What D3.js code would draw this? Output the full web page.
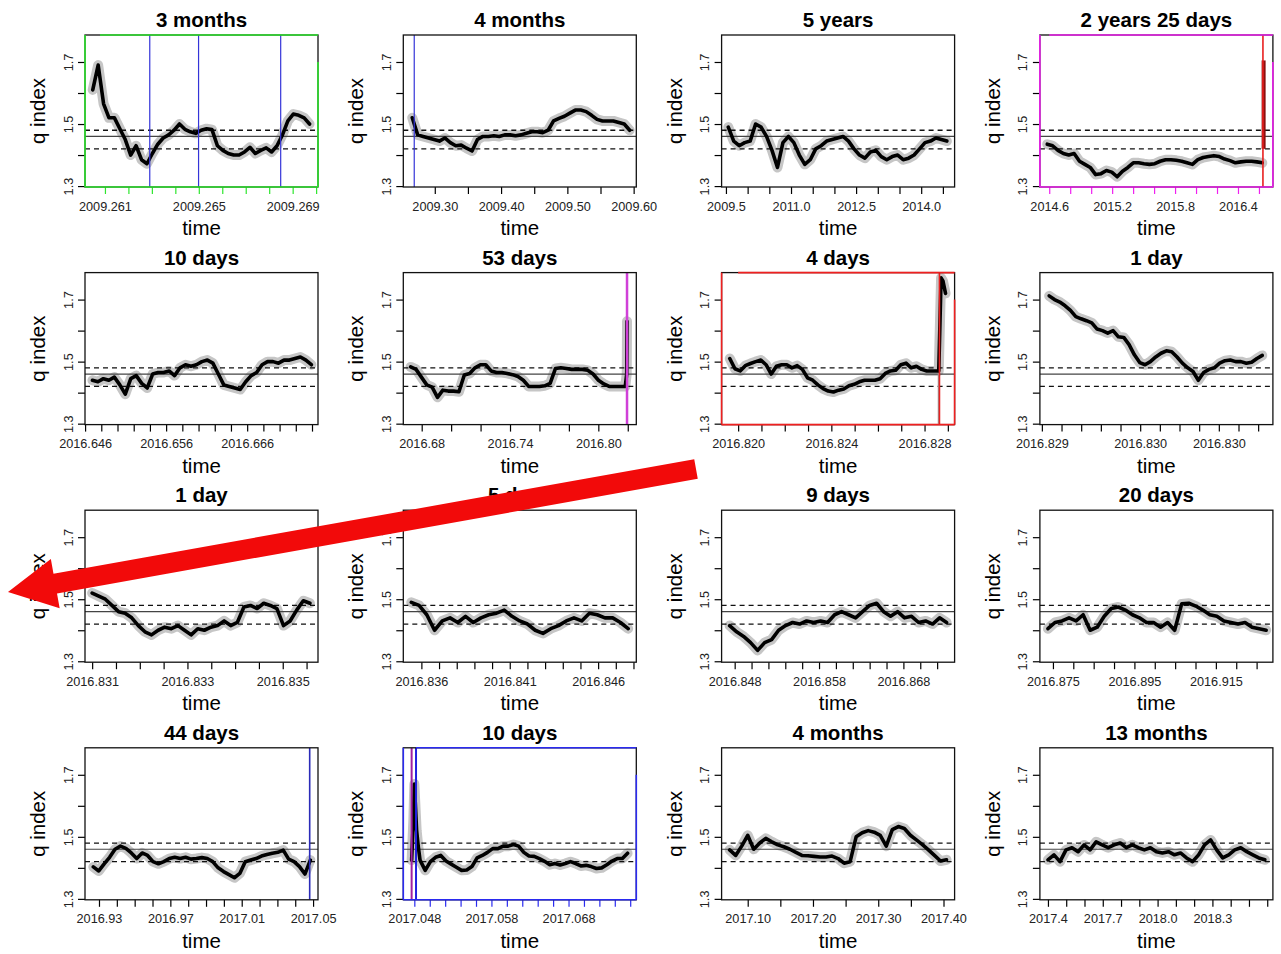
<!DOCTYPE html>
<html>
<head>
<meta charset="utf-8">
<script src="https://cdn.jsdelivr.net/npm/d3@7"></script>
<style>
  body { margin: 0; background: #fff; }
  text { font-family: "Liberation Sans", Arial, Helvetica, sans-serif; }
</style>
</head>
<body>
<svg id="chart" width="1281" height="954"></svg>
<script>
// reference levels and y axis
const refMid = 1.46, refUpper = 1.48, refLower = 1.42;
const yTicks = [1.3, 1.4, 1.5, 1.6, 1.7];
const yTickLabels = ["1.3", "", "1.5", "", "1.7"];
const yDomain = [1.297, 1.787];

const titles = ["3 months", "4 months", "5 years", "2 years 25 days",
                "10 days", "53 days", "4 days", "1 day",
                "1 day", "5 days", "9 days", "20 days",
                "44 days", "10 days", "4 months", "13 months"];

// q index series: values sampled evenly between the two times of tspan
const tspan01 = [2009.26048, 2009.26972];
const q01 = [1.61,1.69,1.565,1.52,1.52,1.485,1.45,1.40,1.43,1.385,1.372,1.405,1.435,1.455,1.465,1.48,1.50,1.483,1.475,1.47,1.48,1.485,1.482,1.43,1.415,1.405,1.40,1.40,1.41,1.425,1.405,1.415,1.423,1.41,1.43,1.465,1.51,1.532,1.528,1.52,1.50];
const tspan02 = [2009.266, 2009.594];
const q02 = [1.52,1.465,1.46,1.455,1.45,1.445,1.455,1.44,1.43,1.432,1.422,1.413,1.45,1.46,1.46,1.462,1.46,1.465,1.465,1.462,1.465,1.47,1.475,1.475,1.472,1.48,1.51,1.518,1.525,1.535,1.545,1.545,1.54,1.528,1.515,1.51,1.51,1.51,1.505,1.50,1.48];
const tspan03 = [2009.554, 2014.592];
const q03 = [1.49,1.445,1.43,1.44,1.445,1.50,1.49,1.46,1.415,1.36,1.44,1.46,1.44,1.40,1.37,1.385,1.42,1.43,1.445,1.45,1.455,1.46,1.445,1.42,1.40,1.39,1.41,1.415,1.395,1.385,1.395,1.40,1.385,1.39,1.40,1.42,1.44,1.445,1.455,1.45,1.445];
const tspan04 = [2014.581, 2016.632];
const q04 = [1.435,1.43,1.415,1.405,1.40,1.405,1.38,1.37,1.36,1.337,1.34,1.35,1.345,1.33,1.348,1.36,1.375,1.375,1.372,1.37,1.372,1.38,1.385,1.385,1.383,1.38,1.375,1.37,1.385,1.392,1.395,1.398,1.395,1.387,1.382,1.375,1.378,1.38,1.38,1.378,1.375];
const tspan05 = [2016.64691, 2016.67392];
const q05 = [1.44,1.435,1.445,1.44,1.45,1.425,1.395,1.445,1.455,1.43,1.415,1.46,1.465,1.465,1.47,1.455,1.48,1.49,1.485,1.49,1.50,1.505,1.495,1.46,1.425,1.42,1.415,1.41,1.435,1.455,1.465,1.49,1.50,1.50,1.495,1.505,1.505,1.51,1.515,1.505,1.49];
const tspan06 = [2016.6725, 2016.8183];
const q06 = [1.483,1.475,1.45,1.425,1.418,1.385,1.408,1.405,1.405,1.403,1.457,1.462,1.48,1.49,1.49,1.47,1.465,1.465,1.462,1.458,1.452,1.44,1.42,1.42,1.42,1.422,1.43,1.478,1.48,1.478,1.475,1.475,1.475,1.472,1.46,1.44,1.428,1.42,1.42,1.42,1.42];
const post06 = [[2016.8193, 1.46], [2016.8195, 1.63]];
const tspan07 = [2016.81964, 2016.82854];
const q07 = [1.51,1.477,1.47,1.487,1.494,1.50,1.505,1.49,1.46,1.485,1.49,1.49,1.48,1.487,1.475,1.448,1.44,1.425,1.413,1.405,1.402,1.408,1.412,1.422,1.427,1.435,1.44,1.44,1.44,1.445,1.462,1.47,1.472,1.49,1.495,1.48,1.485,1.475,1.47,1.47,1.47];
const post07 = [[2016.82861, 1.47], [2016.82871, 1.77], [2016.82879, 1.76], [2016.8289, 1.72]];
const tspan08 = [2016.829437, 2016.830521];
const q08 = [1.712,1.70,1.692,1.68,1.665,1.645,1.638,1.632,1.625,1.605,1.60,1.592,1.60,1.58,1.578,1.555,1.522,1.497,1.49,1.50,1.515,1.527,1.535,1.532,1.515,1.495,1.48,1.468,1.44,1.465,1.475,1.48,1.495,1.503,1.505,1.50,1.50,1.495,1.498,1.51,1.52];
const tspan09 = [2016.831, 2016.83557];
const q09 = [1.52,1.51,1.50,1.48,1.46,1.455,1.44,1.415,1.395,1.385,1.40,1.41,1.405,1.415,1.40,1.385,1.405,1.40,1.41,1.415,1.43,1.415,1.425,1.475,1.48,1.47,1.487,1.48,1.47,1.415,1.43,1.465,1.495,1.487];
const tspan10 = [2016.83543, 2016.8477];
const q10 = [1.49,1.48,1.45,1.40,1.43,1.44,1.425,1.445,1.425,1.44,1.45,1.455,1.465,1.445,1.43,1.42,1.40,1.39,1.405,1.415,1.43,1.44,1.43,1.455,1.45,1.44,1.44,1.425,1.405];
const tspan11 = [2016.8474, 2016.87312];
const q11 = [1.415,1.395,1.38,1.36,1.335,1.36,1.37,1.40,1.415,1.425,1.42,1.43,1.425,1.43,1.425,1.45,1.46,1.45,1.44,1.46,1.48,1.487,1.46,1.445,1.46,1.44,1.445,1.425,1.43,1.42,1.44,1.425];
const tspan12 = [2016.87377, 2016.92735];
const q12 = [1.405,1.425,1.43,1.44,1.43,1.45,1.40,1.41,1.445,1.47,1.475,1.465,1.45,1.44,1.425,1.425,1.41,1.425,1.40,1.485,1.487,1.478,1.465,1.45,1.445,1.43,1.425,1.42,1.425,1.41,1.405,1.40];
const tspan13 = [2016.92683, 2017.04847];
const q13 = [1.403,1.39,1.413,1.434,1.46,1.47,1.463,1.448,1.43,1.448,1.44,1.42,1.413,1.42,1.43,1.434,1.43,1.434,1.428,1.43,1.433,1.43,1.42,1.40,1.388,1.378,1.368,1.382,1.42,1.425,1.43,1.438,1.443,1.447,1.45,1.457,1.428,1.42,1.404,1.38,1.425];
const pre14 = [[2017.04765, 1.425], [2017.04787, 1.55], [2017.048, 1.67], [2017.04813, 1.607], [2017.0483, 1.52], [2017.04852, 1.467]];
const tspan14 = [2017.04874, 2017.07566];
const q14 = [1.425,1.392,1.42,1.434,1.44,1.422,1.412,1.402,1.392,1.393,1.404,1.432,1.44,1.45,1.462,1.462,1.47,1.47,1.475,1.47,1.45,1.438,1.437,1.43,1.421,1.41,1.414,1.409,1.414,1.42,1.414,1.406,1.408,1.404,1.398,1.40,1.41,1.422,1.43,1.43,1.447];
const tspan15 = [2017.0723, 2017.4046];
const q15 = [1.458,1.44,1.47,1.505,1.46,1.48,1.495,1.484,1.474,1.468,1.46,1.45,1.44,1.439,1.437,1.435,1.435,1.438,1.43,1.415,1.42,1.5,1.513,1.52,1.515,1.505,1.47,1.523,1.533,1.527,1.505,1.49,1.475,1.458,1.44,1.422,1.426];
const tspan16 = [2017.4, 2018.587];
const q16 = [1.426,1.442,1.42,1.458,1.465,1.452,1.474,1.458,1.484,1.474,1.465,1.474,1.48,1.465,1.474,1.465,1.458,1.465,1.452,1.448,1.452,1.442,1.448,1.432,1.42,1.442,1.474,1.49,1.458,1.432,1.442,1.458,1.465,1.452,1.442,1.432,1.426];

// x ticks and their labels
const xt01 = [2009.261,2009.262,2009.263,2009.264,2009.265,2009.266,2009.267,2009.268,2009.269,2009.270];
const xl01 = ["2009.261","","","","2009.265","","","","2009.269",""];
const xt02 = [2009.30,2009.35,2009.40,2009.45,2009.50,2009.55,2009.60];
const xl02 = ["2009.30","","2009.40","","2009.50","","2009.60"];
const xt03 = [2009.5,2010.0,2010.5,2011.0,2011.5,2012.0,2012.5,2013.0,2013.5,2014.0,2014.5];
const xl03 = ["2009.5","","","2011.0","","","2012.5","","","2014.0",""];
const xt04 = [2014.6,2014.8,2015.0,2015.2,2015.4,2015.6,2015.8,2016.0,2016.2,2016.4,2016.6];
const xl04 = ["2014.6","","","2015.2","","","2015.8","","","2016.4",""];
const xt05 = [2016.646,2016.648,2016.650,2016.652,2016.654,2016.656,2016.658,2016.660,2016.662,2016.664,2016.666,2016.668,2016.670,2016.672,2016.674];
const xl05 = ["2016.646","","","","","2016.656","","","","","2016.666","","","",""];
const xt06 = [2016.68,2016.70,2016.72,2016.74,2016.76,2016.78,2016.80,2016.82];
const xl06 = ["2016.68","","","2016.74","","","2016.80",""];
const xt07 = [2016.820,2016.821,2016.822,2016.823,2016.824,2016.825,2016.826,2016.827,2016.828,2016.829];
const xl07 = ["2016.820","","","","2016.824","","","","2016.828",""];
const xt08 = [2016.8294,2016.8295,2016.8296,2016.8297,2016.8298,2016.8299,2016.8300,2016.8301,2016.8302,2016.8303,2016.8304,2016.8305];
const xl08 = ["2016.829","","","","","2016.830","","","","2016.830","",""];
const xt09 = [2016.8310,2016.8315,2016.8320,2016.8325,2016.8330,2016.8335,2016.8340,2016.8345,2016.8350,2016.8355];
const xl09 = ["2016.831","","","","2016.833","","","","2016.835",""];
const xt10 = [2016.836,2016.837,2016.838,2016.839,2016.840,2016.841,2016.842,2016.843,2016.844,2016.845,2016.846,2016.847,2016.848];
const xl10 = ["2016.836","","","","","2016.841","","","","","2016.846","",""];
const xt11 = [2016.848,2016.850,2016.852,2016.854,2016.856,2016.858,2016.860,2016.862,2016.864,2016.866,2016.868,2016.870,2016.872];
const xl11 = ["2016.848","","","","","2016.858","","","","","2016.868","",""];
const xt12 = [2016.875,2016.880,2016.885,2016.890,2016.895,2016.900,2016.905,2016.910,2016.915,2016.920,2016.925];
const xl12 = ["2016.875","","","","2016.895","","","","2016.915","",""];
const xt13 = [2016.93,2016.94,2016.95,2016.96,2016.97,2016.98,2016.99,2017.00,2017.01,2017.02,2017.03,2017.04,2017.05];
const xl13 = ["2016.93","","","","2016.97","","","","2017.01","","","","2017.05"];
const xt14 = [2017.048,2017.050,2017.052,2017.054,2017.056,2017.058,2017.060,2017.062,2017.064,2017.066,2017.068,2017.070,2017.072,2017.074,2017.076];
const xl14 = ["2017.048","","","","","2017.058","","","","","2017.068","","","",""];
const xt15 = [2017.10,2017.15,2017.20,2017.25,2017.30,2017.35,2017.40];
const xl15 = ["2017.10","","2017.20","","2017.30","","2017.40"];
const xt16 = [2017.4,2017.5,2017.6,2017.7,2017.8,2017.9,2018.0,2018.1,2018.2,2018.3,2018.4,2018.5,2018.6];
const xl16 = ["2017.4","","","2017.7","","","2018.0","","","2018.3","","",""];

const blue = "#3434d8", red = "#e82020", magenta = "#d040d8";

const panels = [
  { domain: [2009.26015, 2009.27008], ticks: xt01, labels: xl01, span: tspan01, q: q01,
    frame: { color: "#2ee62e", from: 2009.26079, ticks: true },
    vlines: [{ t: 2009.26291, color: blue, w: 1.2 }, { t: 2009.26499, color: blue, w: 1.2 }, { t: 2009.26849, color: blue, w: 1.2 }] },
  { domain: [2009.2525, 2009.604], ticks: xt02, labels: xl02, span: tspan02, q: q02,
    vlines: [{ t: 2009.269, color: blue, w: 1.2 }] },
  { domain: [2009.4, 2014.77], ticks: xt03, labels: xl03, span: tspan03, q: q03 },
  { domain: [2014.511, 2016.733], ticks: xt04, labels: xl04, span: tspan04, q: q04,
    frame: { color: "#f020f0", from: 2014.6, ticks: true },
    vlines: [{ t: 2016.638, color: red, w: 1.6 }],
    segs: [{ pts: [[2016.6445, 1.42], [2016.6445, 1.705]], color: "#8b1010", w: 4 }] },
  { domain: [2016.64599, 2016.67474], ticks: xt05, labels: xl05, span: tspan05, q: q05 },
  { domain: [2016.6675, 2016.8258], ticks: xt06, labels: xl06, span: tspan06, q: q06, post: post06,
    vlines: [{ t: 2016.8195, color: magenta, w: 2.5 }] },
  { domain: [2016.81929, 2016.82929], ticks: xt07, labels: xl07, span: tspan07, q: q07, post: post07,
    frame: { color: "#f02020", from: 2016.820, ticks: false },
    vlines: [{ t: 2016.82864, color: red, w: 1.6 }],
    segs: [{ pts: [[2016.82861, 1.47], [2016.82861, 1.30]], color: "#9a9a9a", w: 2 }] },
  { domain: [2016.82939, 2016.830575], ticks: xt08, labels: xl08, span: tspan08, q: q08 },
  { domain: [2016.83085, 2016.83574], ticks: xt09, labels: xl09, span: tspan09, q: q09 },
  { domain: [2016.834977, 2016.84816], ticks: xt10, labels: xl10, span: tspan10, q: q10 },
  { domain: [2016.84645, 2016.87407], ticks: xt11, labels: xl11, span: tspan11, q: q11 },
  { domain: [2016.8718, 2016.929], ticks: xt12, labels: xl12, span: tspan12, q: q12 },
  { domain: [2016.92216, 2017.05276], ticks: xt13, labels: xl13, span: tspan13, q: q13,
    vlines: [{ t: 2017.0481, color: "#2b2bb8", w: 1.6 }] },
  { domain: [2017.04657, 2017.07679], ticks: xt14, labels: xl14, span: tspan14, q: q14, pre: pre14,
    frame: { color: "#2a2af0", from: 2017.04822, ticks: true },
    vlines: [{ t: 2017.04765, color: "#a020a0", w: 2 }, { t: 2017.04822, color: "#2020e0", w: 2 }] },
  { domain: [2017.06, 2017.417], ticks: xt15, labels: xl15, span: tspan15, q: q15 },
  { domain: [2017.356, 2018.631], ticks: xt16, labels: xl16, span: tspan16, q: q16 }
];

const W = 233, H = 152;
const svg = d3.select("#chart");

panels.forEach((p, i) => {
  const col = i % 4, row = Math.floor(i / 4);
  const left = 85 + col * 318.3, top = 35 + row * 237.6;
  const g = svg.append("g").attr("transform", `translate(${left},${top})`);

  const x = d3.scaleLinear().domain(p.domain).range([0, W]);
  const y = d3.scaleLinear().domain(yDomain).range([H, 0]);

  const n = p.q.length;
  let pts = p.q.map((v, k) => [p.span[0] + (p.span[1] - p.span[0]) * k / (n - 1), v]);
  if (p.pre) pts = p.pre.concat(pts);
  if (p.post) pts = pts.concat(p.post);

  const clipId = "clip" + i;
  g.append("clipPath").attr("id", clipId)
    .append("rect").attr("width", W).attr("height", H);
  const plot = g.append("g").attr("clip-path", `url(#${clipId})`);

  const line = d3.line().x(d => x(d[0])).y(d => y(d[1]));

  // uncertainty band
  plot.append("path").datum(pts).attr("d", line)
    .attr("fill", "none").attr("stroke", "#c6c6c6").attr("stroke-width", 10)
    .attr("stroke-linejoin", "round").attr("stroke-linecap", "round");

  // reference lines
  plot.append("line").attr("x1", 0).attr("x2", W)
    .attr("y1", y(refMid)).attr("y2", y(refMid))
    .attr("stroke", "#444").attr("stroke-width", 1.2);
  [refUpper, refLower].forEach(v => {
    plot.append("line").attr("x1", 0).attr("x2", W)
      .attr("y1", y(v)).attr("y2", y(v))
      .attr("stroke", "#111").attr("stroke-width", 1.3).attr("stroke-dasharray", "5,4");
  });

  (p.segs || []).forEach(s => {
    plot.append("path").datum(s.pts).attr("d", line)
      .attr("fill", "none").attr("stroke", s.color).attr("stroke-width", s.w);
  });

  plot.append("path").datum(pts).attr("d", line)
    .attr("fill", "none").attr("stroke", "#000").attr("stroke-width", 3.6)
    .attr("stroke-linejoin", "round").attr("stroke-linecap", "round");

  (p.vlines || []).forEach(v => {
    plot.append("line").attr("x1", x(v.t)).attr("x2", x(v.t))
      .attr("y1", 0).attr("y2", H)
      .attr("stroke", v.color).attr("stroke-width", v.w);
  });

  // axes
  const xAxis = g.append("g").attr("transform", `translate(0,${H})`)
    .call(d3.axisBottom(x).tickValues(p.ticks).tickFormat((d, k) => p.labels[k]).tickSize(7));
  xAxis.select(".domain").remove();
  xAxis.selectAll("line").attr("stroke-width", 1.2);
  xAxis.selectAll("text").attr("y", 23.5).attr("dy", 0)
    .attr("font-size", 12.7).attr("fill", "#222")
    .style("font-family", "'Liberation Sans', Arial, sans-serif");

  const yAxis = g.append("g")
    .call(d3.axisLeft(y).tickValues(yTicks).tickFormat((d, k) => yTickLabels[k]).tickSize(7));
  yAxis.select(".domain").remove();
  yAxis.selectAll("line").attr("stroke-width", 1.2);
  yAxis.selectAll("text").attr("transform", "rotate(-90)")
    .attr("x", 0).attr("y", -12.5).attr("dy", 0)
    .attr("text-anchor", "middle").attr("font-size", 12.7).attr("fill", "#222")
    .style("font-family", "'Liberation Sans', Arial, sans-serif");

  // box
  g.append("rect").attr("width", W).attr("height", H)
    .attr("fill", "none").attr("stroke", "#111").attr("stroke-width", 1.3);

  if (p.frame) {
    const f = p.frame;
    const fx = x(f.from);
    const edges = [[0, 0, 0, H], [fx, 0, W, 0], [0, H, W, H], [W, y(1.7), W, H]];
    edges.forEach(e => {
      g.append("line").attr("x1", e[0]).attr("y1", e[1]).attr("x2", e[2]).attr("y2", e[3])
        .attr("stroke", f.color).attr("stroke-width", 1.6);
    });
    if (f.ticks) xAxis.selectAll("line").attr("stroke", f.color);
  }

  // titles
  g.append("text").attr("x", W / 2).attr("y", -8)
    .attr("text-anchor", "middle").attr("font-size", 20.5).attr("font-weight", "bold")
    .text(titles[i]);
  g.append("text").attr("x", W / 2).attr("y", H + 48)
    .attr("text-anchor", "middle").attr("font-size", 20.5)
    .text("time");
  g.append("text").attr("transform", `translate(-40,${H / 2}) rotate(-90)`)
    .attr("text-anchor", "middle").attr("font-size", 20.5)
    .text("q index");
});

// red annotation arrow
const arrowTail = [696, 469], arrowTip = [8, 592];
const dx = arrowTip[0] - arrowTail[0], dy = arrowTip[1] - arrowTail[1];
const len = Math.hypot(dx, dy);
const u = [dx / len, dy / len], nrm = [-u[1], u[0]];
const shaftHalf = 10, headLen = 48, headHalf = 25;
const base = [arrowTip[0] - u[0] * headLen, arrowTip[1] - u[1] * headLen];
const pt = (p0, k) => [p0[0] + nrm[0] * k, p0[1] + nrm[1] * k];
const arrowPts = [pt(arrowTail, shaftHalf), pt(base, shaftHalf), pt(base, headHalf), arrowTip,
                  pt(base, -headHalf), pt(base, -shaftHalf), pt(arrowTail, -shaftHalf)];
svg.append("polygon")
  .attr("points", arrowPts.map(d => d.join(",")).join(" "))
  .attr("fill", "#f20a0a");
</script>
</body>
</html>
